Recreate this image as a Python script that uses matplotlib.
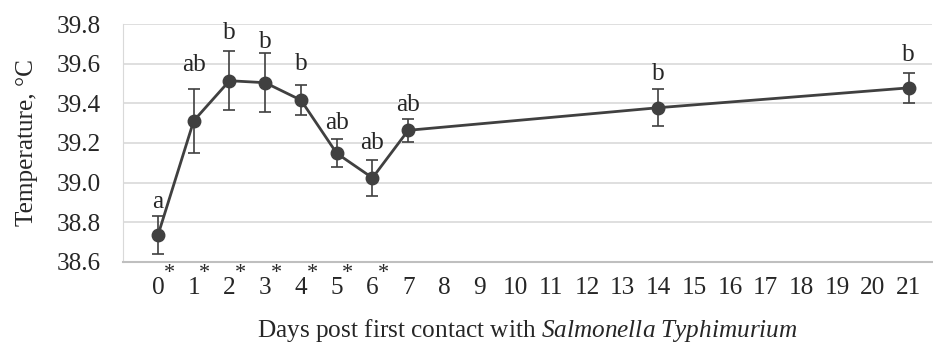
# Temperatura tras el contacto con Salmonella Typhimurium

import numpy as np
import matplotlib.pyplot as plt

# Datos

days = [0, 1, 2, 3, 4, 5, 6, 7, 14, 21]
temp = [38.736, 39.312, 39.514, 39.504, 39.416, 39.148, 39.024, 39.264, 39.378, 39.478]
err = [0.095, 0.16, 0.15, 0.15, 0.077, 0.071, 0.092, 0.057, 0.093, 0.077]
letters = ['a', 'ab', 'b', 'b', 'b', 'ab', 'ab', 'ab', 'b', 'b']
starred = [0, 1, 2, 3, 4, 5, 6]
tick_days = list(range(22))

# posición vertical de las letras (puntos sobre el extremo de la barra)
letter_dy = [10, 17, 13, 8, 15, 12, 12, 10, 11, 13]

plt.rcParams['font.family'] = ['Liberation Serif', 'DejaVu Serif']
plt.rcParams['mathtext.fontset'] = 'custom'
plt.rcParams['mathtext.rm'] = 'Liberation Serif'
plt.rcParams['mathtext.it'] = 'Liberation Serif:italic'

fs = 18.2
col = '#404040'
tcol = '#262626'

fig = plt.figure(figsize=(9.33, 3.43), dpi=100)
ax = fig.add_axes([0.1318, 0.2362, 0.867, 0.6938])

ax.errorbar(days, temp, yerr=err, color=col, lw=2, marker='o', ms=9,
            ecolor=col, elinewidth=1.2, capsize=4, capthick=1.2, zorder=3)

for d, t, e, l, dy in zip(days, temp, err, letters, letter_dy):
    ax.annotate(l, (d, t + e), xytext=(0, dy), textcoords='offset points',
                ha='center', va='center', fontsize=fs, color=tcol)

ax.set_xlim(-0.98, 21.65)
ax.set_ylim(38.6, 39.8)
ax.set_yticks(np.arange(38.6, 39.81, 0.2))
ax.set_yticklabels([f'{v:.1f}' for v in np.arange(38.6, 39.81, 0.2)])
ax.set_xticks(tick_days)
ax.set_xticklabels([str(d) for d in tick_days])

# asteriscos de los días marcados
for d in starred:
    ax.annotate('*', (d, 0), xycoords=ax.get_xaxis_transform(),
                xytext=(8, -11.5), textcoords='offset points',
                ha='center', va='baseline', fontsize=16, color=tcol)

ax.tick_params(axis='both', length=0, labelsize=fs, colors=tcol)
ax.tick_params(axis='x', pad=11)
ax.tick_params(axis='y', pad=16)

ax.grid(axis='y', color='#d9d9d9', lw=1.2)
ax.set_axisbelow(True)
for s in ['top', 'right']:
    ax.spines[s].set_visible(False)
ax.spines['left'].set_color('#d9d9d9')
ax.spines['bottom'].set_color('#bfbfbf')
ax.spines['bottom'].set_linewidth(1.5)

ax.set_ylabel('Temperature, °C', fontsize=fs, color=tcol, labelpad=13)
ax.set_xlabel(r'Days post first contact with $\mathit{Salmonella\ Typhimurium}$',
              fontsize=fs, color=tcol, labelpad=13)

fig.savefig('out.png', dpi=100)
